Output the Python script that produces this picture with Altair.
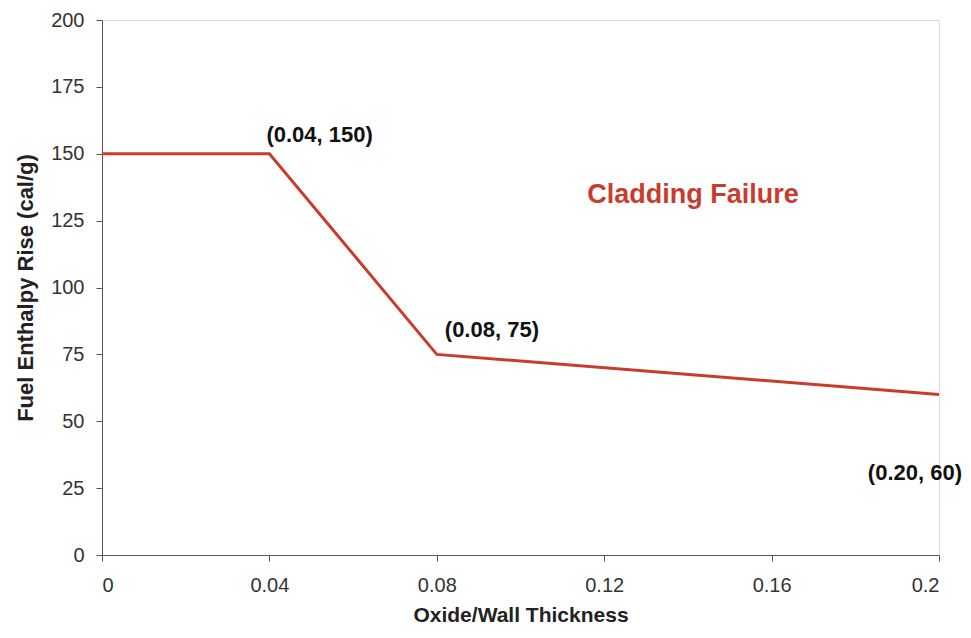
import altair as alt
import pandas as pd

# Data
x_vals = [0.0, 0.04, 0.08, 0.20]
y_vals = [150, 150, 75, 60]
point_labels = ["(0.04, 150)", "(0.08, 75)", "(0.20, 60)"]
label_x = [0.04, 0.08, 0.20]
label_y = [150, 75, 60]
region_label = "Cladding Failure"
region_x = [0.1412]
region_y = [134.5]
x_ticks = [0, 0.04, 0.08, 0.12, 0.16, 0.2]
y_ticks = [0, 25, 50, 75, 100, 125, 150, 175, 200]

line_df = pd.DataFrame({"x": x_vals, "y": y_vals})

xscale = alt.Scale(domain=[0, 0.2], nice=False, zero=True)
yscale = alt.Scale(domain=[0, 200], nice=False)

FONT = "Liberation Sans"
RED = "#c93c2d"

base_x = alt.X("x:Q", scale=xscale,
               axis=alt.Axis(title="Oxide/Wall Thickness", values=x_ticks,
                             format="~g", grid=False, domainColor="#555", tickColor="#555",
                             tickSize=6, labelPadding=14, labelFontSize=20, labelColor="#333",
                             labelFont=FONT, titleFont=FONT, titleFontSize=21, titleFontWeight="bold",
                             titleColor="#222", titlePadding=9))
base_y = alt.Y("y:Q", scale=yscale,
               axis=alt.Axis(title="Fuel Enthalpy Rise (cal/g)", values=y_ticks,
                             grid=False, domainColor="#555", tickColor="#555", tickSize=6,
                             labelPadding=12, labelFontSize=20, labelColor="#333", labelFont=FONT,
                             titleFont=FONT, titleFontSize=22, titleFontWeight="bold",
                             titleColor="#222", titlePadding=13))

line = alt.Chart(line_df).mark_line(color=RED, strokeWidth=3).encode(x=base_x, y=base_y)

def lbl(i, dx, dy, align):
    df = pd.DataFrame({"x": [label_x[i]], "y": [label_y[i]], "t": [point_labels[i]]})
    return alt.Chart(df).mark_text(font=FONT, fontSize=22, fontWeight="bold", color="#111",
                                   align=align, dx=dx, dy=dy).encode(
        x=alt.X("x:Q", scale=xscale), y=alt.Y("y:Q", scale=yscale), text="t:N")

t1 = lbl(0, -3, -19, "left")
t2 = lbl(1, 8, -24, "left")
t3 = lbl(2, 23, 78, "right")

region_df = pd.DataFrame({"x": region_x, "y": region_y, "t": [region_label]})
t4 = alt.Chart(region_df).mark_text(font=FONT, fontSize=27, fontWeight="bold", color=RED).encode(
    x=alt.X("x:Q", scale=xscale), y=alt.Y("y:Q", scale=yscale), text="t:N")

chart = alt.layer(line, t1, t2, t3, t4).properties(
    width=837, height=535,
    autosize=alt.AutoSizeParams(type="none"),
    padding={"left": 94, "top": 12, "right": 24, "bottom": 74},
).configure_view(stroke="#b0acb8", strokeWidth=1.5).configure(background="white")

chart.save("out.html", embed_options={"renderer": "svg", "actions": False})
